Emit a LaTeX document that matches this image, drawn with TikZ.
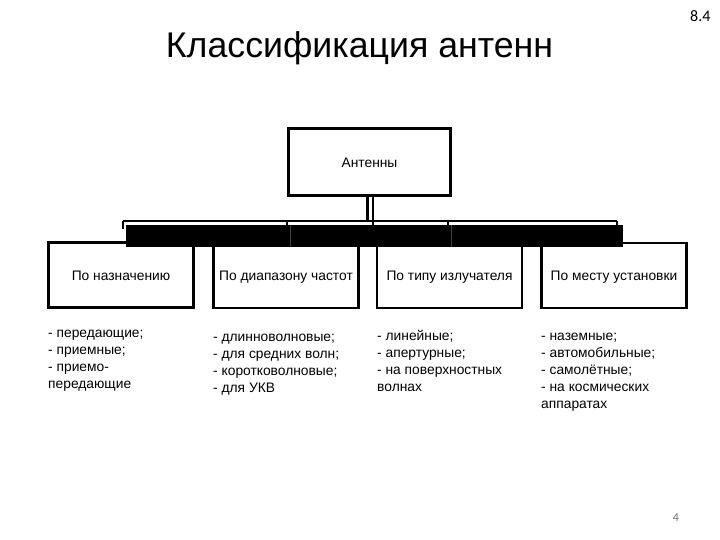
\documentclass[tikz,border=0pt]{standalone}
\usepackage{fontspec}
\setmainfont{Liberation Sans}
\newfontfamily\calibrifont{Carlito}
\begin{document}
\begin{tikzpicture}[x=1pt,y=-1pt,
  box/.style={draw=black, line width=2.8pt, fill=white, minimum width=145pt, minimum height=65pt, inner sep=0pt, text height=12pt, text depth=1.5pt, font=\fontsize{13.8}{17}\selectfont},
  lst/.style={anchor=north west, align=left, inner sep=0pt, font=\fontsize{13.8}{17}\selectfont},
  thin/.style={line width=1.6pt},
  thick/.style={line width=2.8pt}]
\useasboundingbox (0,0) rectangle (720,540);
\fill[white] (0,0) rectangle (720,540);

\node[anchor=base, font=\fontsize{35.7}{40}\selectfont] (title) at (359.5,58) {Классификация антенн};
\node[anchor=base east, font=\calibrifont\fontsize{16}{18}\selectfont] (num) at (714,22) {8.4};
\node[anchor=base, text=black!55, font=\calibrifont\fontsize{12}{14}\selectfont] (page) at (676,521) {4};

\node[box, minimum width=162pt, minimum height=67pt] (ant) at (369.5,162) {Антенны};

\node[box] (b1) at (121,275) {По назначению};
\node[box] (b2) at (286,275.5) {По диапазону частот};
\node[box] (b3) at (449.5,275.5) {По типу излучателя};
\node[box] (b4) at (614,275.5) {По месту установки};

% bracket
\coordinate (bl) at (123,221);
\coordinate (br) at (617,221);
\coordinate (bm1) at (287,221);
\coordinate (bm2) at (448,221);
\draw[thin] (bl) -- (br);
\draw[thin] (bl) -- ++(0,8);
\draw[thin] (bm1) -- ++(0,8);
\draw[thin] (bm2) -- ++(0,8);
\draw[thin] (br) -- ++(0,8);

\node[fill=black, draw=none, minimum width=497pt, minimum height=22pt, inner sep=0pt] (bar) at (374.5,236) {};
\draw[black!75, line width=0.8pt] (290,225) -- (290,247);
\draw[black!75, line width=0.8pt] (451,225) -- (451,247);

% connector from top box
\draw[thick] ([xshift=-2pt]ant.south) -- ([xshift=-2pt]ant.south |- bl);
\draw[thick] ([xshift=3.5pt,yshift=3pt]ant.south) -- ([xshift=3.5pt]ant.south |- bar.north);

\node[lst] (l1) at (48,325) {\strut- передающие;\\- приемные;\\- приемо-\\передающие};
\node[lst] (l2) at (213,329) {\strut- длинноволновые;\\- для средних волн;\\- коротковолновые;\\- для УКВ};
\node[lst] (l3) at (377,328) {\strut- линейные;\\- апертурные;\\- на поверхностных\\волнах};
\node[lst] (l4) at (541,328) {\strut- наземные;\\- автомобильные;\\- самолётные;\\- на космических\\аппаратах};
\end{tikzpicture}
\end{document}
